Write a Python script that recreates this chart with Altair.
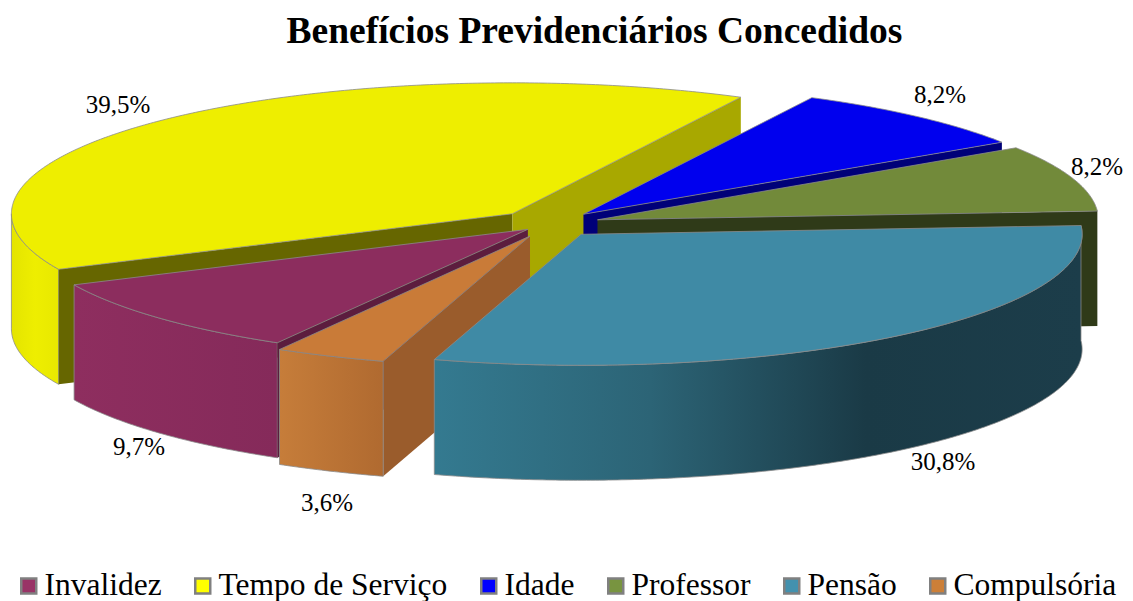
import numpy as np
import pandas as pd
import altair as alt

# ---- chart data ----
CATEGORIES = ["Invalidez", "Tempo de Serviço", "Idade", "Professor", "Pensão", "Compulsória"]
VALUES = [9.7, 39.5, 8.2, 8.2, 30.8, 3.6]
LABELS = ["9,7%", "39,5%", "8,2%", "8,2%", "30,8%", "3,6%"]
LEGEND_COLORS = ["#993366", "#ffff00", "#0000ff", "#789440", "#4391ae", "#cc7f38"]

# ---- styling ----
TOP = ["#8c2d5e", "#eeee00", "#0000ee", "#728a3a", "#3f8aa5", "#c97b38"]
INNER = ["#5c1d3e", "#a8a800", "#000078", "#2f3a18", "#1a3a46", "#9a5c2c"]
LEFT_WALL = {"Tempo de Serviço": "#666600"}
OUTER = {
    "Invalidez": ["#8e2e5f", "#852a5a"],
    "Tempo de Serviço": ["#e4e400", "#eeee00", "#e8e800"],
    "Pensão": ["#347a90", "#2c6476", "#1a3a46", "#1c3d4a"],
    "Compulsória": ["#c67d3a", "#b06a30"],
}
EXPLODE = [0.06, 0.108, 0.1, 0.1, 0.1, 0.1]
LABEL_XY = [(139, 447), (118, 105), (940, 95), (1097, 167), (943, 462), (327, 503)]
CX, CY, RX, RY, DEPTH = 550, 224, 501, 131, 115
START_ANGLE = 240.0
X0, X1, Y0, Y1 = 8, 1125, 68, 601


def point(apex, deg, dy=0):
    a = np.radians(deg)
    return (apex[0] + RX * np.cos(a), apex[1] - RY * np.sin(a) + dy)


def arc(apex, a, b, dy=0):
    n = max(int(abs(a - b) * 2), 2)
    return [point(apex, d, dy) for d in np.linspace(a, b, n)]


xs = alt.Scale(domain=[X0, X1], range=[0, X1 - X0], nice=False, zero=False)
ys = alt.Scale(domain=[Y1, Y0], range=[Y1 - Y0, 0], nice=False, zero=False)
NOAXIS = None


def poly(points, fill, stroke="#8a8a8a"):
    pts = list(points) + [points[0]]
    df = pd.DataFrame(pts, columns=["x", "y"])
    df["o"] = range(len(df))
    if isinstance(fill, list):
        fill = alt.Gradient(
            gradient="linear", x1=0, x2=1, y1=0, y2=0,
            stops=[alt.GradientStop(color=c, offset=i / (len(fill) - 1)) for i, c in enumerate(fill)],
        )
    style = dict(stroke=stroke, strokeWidth=0.8) if stroke else dict(strokeWidth=0)
    return [alt.Chart(df).mark_line(filled=True, fill=fill, clip=False, opacity=1, **style).encode(
        x=alt.X("x:Q", scale=xs, axis=NOAXIS),
        y=alt.Y("y:Q", scale=ys, axis=NOAXIS),
        order=alt.Order("o:Q"),
    )]


# slice angles, clockwise, from the percentages
geo = {}
ang = START_ANGLE
for cat, v, e in zip(CATEGORIES, VALUES, EXPLODE):
    a, b = ang, ang - v / sum(VALUES) * 360
    mid = np.radians((a + b) / 2)
    apex = (CX + e * RX * np.cos(mid), CY - e * RY * np.sin(mid))
    geo[cat] = (a, b, apex)
    ang = b

layers = []


def top(i):
    c = CATEGORIES[i]
    a, b, apex = geo[c]
    return poly([apex] + arc(apex, a, b), TOP[i])


def wall(i, deg, color):
    apex = geo[CATEGORIES[i]][2]
    p = point(apex, deg)
    return poly([apex, p, (p[0], p[1] + DEPTH), (apex[0], apex[1] + DEPTH)], color, stroke=None)


def outer(i, a, b):
    apex = geo[CATEGORIES[i]][2]
    return poly(arc(apex, a, b) + arc(apex, b, a, DEPTH), OUTER[CATEGORIES[i]])


# painter's order, back to front
yellow_a, yellow_b, _ = geo["Tempo de Serviço"]
layers += outer(1, yellow_a, 180)
layers += wall(1, yellow_a, LEFT_WALL["Tempo de Serviço"])
layers += wall(1, yellow_b, INNER[1])
layers += top(1)
layers += wall(2, geo["Idade"][1], INNER[2])
layers += top(2)
layers += wall(3, geo["Professor"][1], INNER[3])
layers += top(3)
layers += outer(0, geo["Invalidez"][0], geo["Invalidez"][1])
layers += wall(0, geo["Invalidez"][0], INNER[0])
layers += top(0)
layers += wall(5, geo["Compulsória"][0], INNER[5])
layers += outer(5, geo["Compulsória"][0], geo["Compulsória"][1])
layers += top(5)
layers += outer(4, geo["Pensão"][0], geo["Pensão"][1])
layers += top(4)

label_df = pd.DataFrame({
    "x": [p[0] for p in LABEL_XY],
    "y": [p[1] for p in LABEL_XY],
    "t": LABELS,
})
text = alt.Chart(label_df).mark_text(
    font="Liberation Serif", fontSize=25, color="#000000", baseline="middle", align="center", clip=False
).encode(
    x=alt.X("x:Q", scale=xs, axis=NOAXIS),
    y=alt.Y("y:Q", scale=ys, axis=NOAXIS),
    text="t:N",
)

legend_df = pd.DataFrame({"cat": CATEGORIES, "x": [X0] * 6, "y": [Y1] * 6})
legend_layer = alt.Chart(legend_df).mark_square(size=0, opacity=1).encode(
    x=alt.X("x:Q", scale=xs, axis=NOAXIS),
    y=alt.Y("y:Q", scale=ys, axis=NOAXIS),
    color=alt.Color(
        "cat:N",
        scale=alt.Scale(domain=CATEGORIES, range=LEGEND_COLORS),
        legend=alt.Legend(
            title=None, orient="none", legendX=5, legendY=501, direction="horizontal", columns=6,
            labelFont="Liberation Serif", labelFontSize=31.5, labelColor="#000000", labelLimit=400,
            symbolType="square", symbolSize=225, symbolStrokeColor="#808080", symbolStrokeWidth=2.5,
            symbolOpacity=1, labelOffset=0, columnPadding=25, clipHeight=34,
        ),
    ),
)

chart = alt.layer(*layers, text, legend_layer).properties(
    width=X1 - X0,
    height=Y1 - Y0,
    padding={"left": 0, "right": 0, "top": Y0 - 8, "bottom": 0},
    autosize=alt.AutoSizeParams(type="none"),
    title=alt.TitleParams(
        "Benefícios Previdenciários Concedidos",
        font="Liberation Serif", fontSize=37.5, fontWeight="bold", color="#000000",
        anchor="middle", dx=28, offset=18,
    ),
).configure_view(stroke=None)

chart.save("out.html", embed_options={"renderer": "svg", "actions": False})
